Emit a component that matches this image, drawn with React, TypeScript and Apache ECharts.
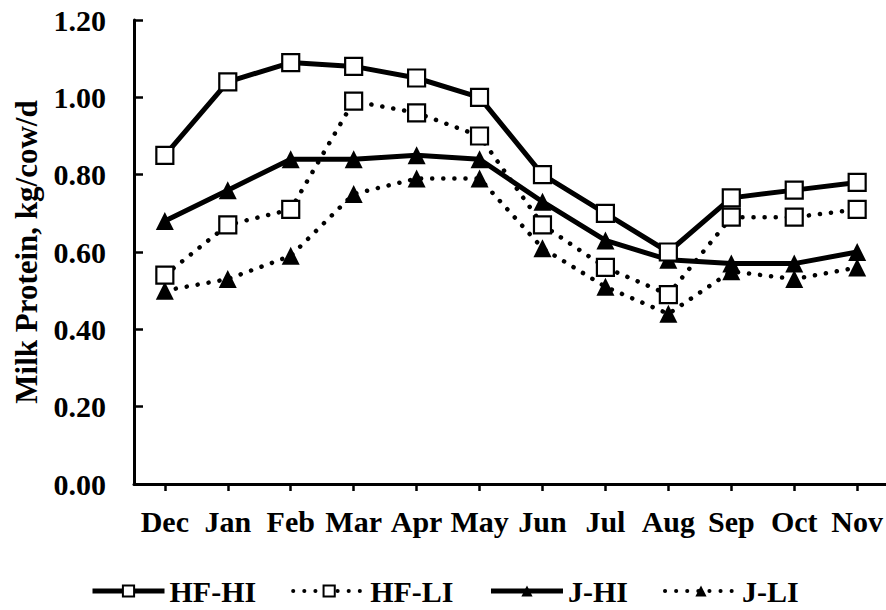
import React, { useEffect, useRef } from "react";
import * as echarts from "echarts";

const months = ["Dec", "Jan", "Feb", "Mar", "Apr", "May", "Jun", "Jul", "Aug", "Sep", "Oct", "Nov"];
const hfHi = [0.85, 1.04, 1.09, 1.08, 1.05, 1.0, 0.8, 0.7, 0.6, 0.74, 0.76, 0.78];
const hfLi = [0.54, 0.67, 0.71, 0.99, 0.96, 0.9, 0.67, 0.56, 0.49, 0.69, 0.69, 0.71];
const jHi = [0.68, 0.76, 0.84, 0.84, 0.85, 0.84, 0.73, 0.63, 0.58, 0.57, 0.57, 0.6];
const jLi = [0.5, 0.53, 0.59, 0.75, 0.79, 0.79, 0.61, 0.51, 0.44, 0.55, 0.53, 0.56];
const seriesNames = ["HF-HI", "HF-LI", "J-HI", "J-LI"];

const FONT = "'Liberation Serif', 'Times New Roman', serif";

export default function App() {
  const ref = useRef<HTMLDivElement>(null);
  useEffect(() => {
    if (!ref.current) return;
    const chart = echarts.init(ref.current, null, { renderer: "svg" });
    const toPts = (arr: number[]) => arr.map((v, i) => [i, v]);
    const solid = { color: "#000", width: 5, type: "solid" as const };
    const dotted = { color: "#000", width: 4.5, type: [0.1, 11] as any, cap: "round" as const };
    const squareItem = { color: "#fff", borderColor: "#000", borderWidth: 2.2 };
    const triItem = { color: "#000", borderColor: "#000", borderWidth: 0 };
    const legendLine = [
      { width: 5, type: "solid", color: "#000" },
      { width: 4, type: [0.1, 11], cap: "round", color: "#000" },
      { width: 5, type: "solid", color: "#000" },
      { width: 4, type: [0.1, 11], cap: "round", color: "#000" },
    ];
    chart.setOption({
      animation: false,
      backgroundColor: "#fff",
      grid: { left: 134, right: 0, top: 20, bottom: 126, containLabel: false },
      legend: {
        left: 85,
        top: 571,
        itemWidth: 72,
        itemHeight: 14,
        itemGap: 35,
        textStyle: { fontFamily: FONT, fontWeight: "bold", fontSize: 30, color: "#000", lineHeight: 30 },
        data: seriesNames.map((n, i) => ({ name: n, lineStyle: legendLine[i] })),
      },
      xAxis: {
        type: "value",
        min: -0.49,
        max: 11.45,
        splitLine: { show: false },
        axisLine: { show: true, onZero: false, lineStyle: { color: "#000", width: 3 } },
        axisTick: {
          show: true,
          inside: false,
          length: 7,
          lineStyle: { color: "#000", width: 2.5 },
          customValues: months.map((_, i) => i),
        },
        axisLabel: {
          customValues: months.map((_, i) => i),
          formatter: (v: number) => months[Math.round(v)] ?? "",
          fontFamily: FONT,
          fontWeight: "bold",
          fontSize: 30,
          color: "#000",
          margin: 22,
        },
      },
      yAxis: {
        type: "value",
        min: 0,
        max: 1.2,
        interval: 0.2,
        name: "Milk Protein, kg/cow/d",
        nameLocation: "middle",
        nameGap: 92,
        nameTextStyle: { fontFamily: FONT, fontWeight: "bold", fontSize: 31, color: "#000" },
        splitLine: { show: false },
        axisLine: { show: true, onZero: false, lineStyle: { color: "#000", width: 3 } },
        axisTick: { show: true, inside: true, length: 9, lineStyle: { color: "#000", width: 2.5 } },
        axisLabel: {
          formatter: (v: number) => v.toFixed(2),
          fontFamily: FONT,
          fontWeight: "bold",
          fontSize: 30,
          color: "#000",
          margin: 28,
        },
      },
      series: [
        {
          name: seriesNames[0],
          type: "line",
          data: toPts(hfHi),
          symbol: "rect",
          symbolSize: 17,
          lineStyle: solid,
          itemStyle: squareItem,
          z: 4,
        },
        {
          name: seriesNames[1],
          type: "line",
          data: toPts(hfLi),
          symbol: "rect",
          symbolSize: 17,
          lineStyle: dotted,
          itemStyle: squareItem,
          z: 3,
        },
        {
          name: seriesNames[2],
          type: "line",
          data: toPts(jHi),
          symbol: "triangle",
          symbolSize: 18,
          lineStyle: solid,
          itemStyle: triItem,
          z: 2,
        },
        {
          name: seriesNames[3],
          type: "line",
          data: toPts(jLi),
          symbol: "triangle",
          symbolSize: 18,
          lineStyle: dotted,
          itemStyle: triItem,
          z: 1,
        },
      ],
    });
    return () => chart.dispose();
  }, []);
  return <div ref={ref} style={{ width: 886, height: 610, position: "absolute", left: 0, top: 0 }} />;
}
